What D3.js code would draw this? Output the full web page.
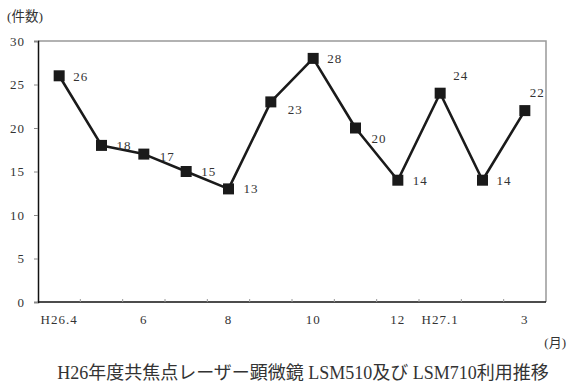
<!DOCTYPE html>
<html>
<head>
	<meta charset="utf-8">
	<title>LSM利用推移</title>
	<script src="https://d3js.org/d3.v7.min.js"></script>
	<style>
		body { margin: 0; background: #fff; }
		text { font-family: "Liberation Serif", "Noto Sans CJK JP", serif; fill: #333; }
	</style>
</head>
<body>
<div id="chart"></div>
<script type="text/javascript">

	// data
	var months = ["H26.4", "5", "6", "7", "8", "9", "10", "11", "12", "H27.1", "2", "3"];
	var tickLabels = ["H26.4", "", "6", "", "8", "", "10", "", "12", "H27.1", "", "3"];
	var counts = [26, 18, 17, 15, 13, 23, 28, 20, 14, 24, 14, 22];
	var yTicks = [0, 5, 10, 15, 20, 25, 30];

	// label nudges (dx, dy) so they sit like the original
	var labelNudge = [[14, 1], [15, 0], [16, 2], [15, 0], [15, 0], [17, 8], [14, 0], [16, 10], [15, 0], [13, -18], [14, 0], [5, -18]];

	var W = 568, H = 387;
	var plotL = 38, plotR = 546, plotT = 41, plotB = 302;

	var svg = d3.select("#chart").append("svg")
		.attr("width", W)
		.attr("height", H);

	var x = d3.scaleBand().domain(months).range([plotL, plotR]);
	var y = d3.scaleLinear().domain([0, 30]).range([plotB, plotT]);

	// frame: gray top / right
	svg.append("path")
		.attr("d", "M" + plotL + "," + plotT + "H" + plotR + "V" + plotB)
		.attr("fill", "none")
		.attr("stroke", "#999")
		.attr("stroke-width", 1.5);

	// y axis
	var yAxis = svg.append("g")
		.attr("transform", "translate(" + plotL + ",0)")
		.call(d3.axisLeft(y).tickValues(yTicks).tickSize(4).tickPadding(9));
	yAxis.select(".domain").attr("stroke", "#111").attr("stroke-width", 1.5);
	yAxis.selectAll(".tick line").attr("stroke", "#888");
	yAxis.selectAll("text").style("font-size", "13px").style("letter-spacing", "1px").attr("fill", "#333");

	// x axis, ticks at band boundaries pointing up
	var xb = svg.append("g").attr("transform", "translate(0," + plotB + ")");
	xb.append("line")
		.attr("x1", plotL).attr("x2", plotR)
		.attr("stroke", "#111").attr("stroke-width", 1.5);
	xb.selectAll("line.tk")
		.data(months.slice(1))
		.enter().append("line")
		.attr("class", "tk")
		.attr("x1", function(d){ return x(d); })
		.attr("x2", function(d){ return x(d); })
		.attr("y1", 0).attr("y2", -3)
		.attr("stroke", "#999");
	xb.selectAll("text")
		.data(months)
		.enter().append("text")
		.attr("x", function(d){ return x(d) + x.bandwidth() / 2; })
		.attr("y", 22)
		.attr("text-anchor", "middle")
		.style("font-size", "13px")
		.style("letter-spacing", "1px")
		.text(function(d, i){ return tickLabels[i]; });

	// line
	var line = d3.line()
		.x(function(d, i){ return x(months[i]) + x.bandwidth() / 2; })
		.y(function(d){ return y(d); });

	svg.append("path")
		.datum(counts)
		.attr("d", line)
		.attr("fill", "none")
		.attr("stroke", "#1a1a1a")
		.attr("stroke-width", 2.6)
		.attr("stroke-linejoin", "round");

	svg.selectAll("rect.pt")
		.data(counts)
		.enter().append("rect")
		.attr("class", "pt")
		.attr("x", function(d, i){ return x(months[i]) + x.bandwidth() / 2 - 5.5; })
		.attr("y", function(d){ return y(d) - 5.5; })
		.attr("width", 11)
		.attr("height", 11)
		.attr("fill", "#1a1a1a");

	svg.selectAll("text.val")
		.data(counts)
		.enter().append("text")
		.attr("class", "val")
		.attr("x", function(d, i){ return x(months[i]) + x.bandwidth() / 2 + labelNudge[i][0]; })
		.attr("y", function(d, i){ return y(d) + labelNudge[i][1]; })
		.attr("dy", "0.35em")
		.style("font-size", "13px")
		.style("letter-spacing", "1px")
		.text(function(d){ return d; });

	// unit labels and title
	svg.append("text").attr("x", 7).attr("y", 21).style("font-size", "13.5px").text("(件数)");
	svg.append("text").attr("x", 566).attr("y", 347).attr("text-anchor", "end").style("font-size", "13px").text("(月)");
	svg.append("text")
		.attr("x", 303).attr("y", 379)
		.attr("text-anchor", "middle")
		.style("font-size", "18px")
		.text("H26年度共焦点レーザー顕微鏡 LSM510及び LSM710利用推移");

</script>
</body>
</html>
